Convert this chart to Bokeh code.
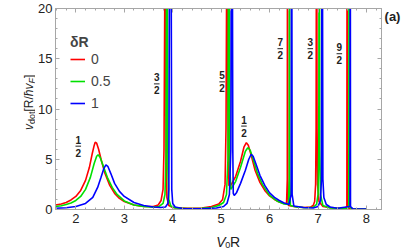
from bokeh.plotting import figure
from bokeh.layouts import row, column
from bokeh.models import Range1d, FixedTicker, LinearAxis, Legend, LegendItem
from bokeh.core.properties import value
from bokeh.embed import file_html
from bokeh.resources import INLINE

# ---------------- data ----------------
series_names = ["0", "0.5", "1"]          # delta R values
legend_title = "δR"

x_red = [1.58, 1.7, 1.8, 1.9, 2.0, 2.1, 2.2, 2.28, 2.34, 2.38, 2.40, 2.43, 2.47, 2.52, 2.6, 2.7,
         2.8, 2.9, 3.0, 3.2, 3.4, 3.6, 3.7, 3.76, 3.8, 3.82, 3.835, 3.845, 3.855, 3.865, 3.88,
         3.92, 4.0, 4.3, 4.6, 4.8, 4.95, 5.03, 5.08, 5.1, 5.115, 5.125, 5.13, 5.14, 5.16, 5.2,
         5.3, 5.4, 5.47, 5.52, 5.56, 5.62, 5.7, 5.8, 5.9, 6.0, 6.1, 6.2, 6.3, 6.35, 6.365,
         6.37, 6.375, 6.39, 6.5, 6.7, 6.85, 6.9, 6.93, 6.95, 6.96, 6.97, 6.98, 6.99, 7.02,
         7.1, 7.3, 7.55, 7.595, 7.6, 7.605, 7.65, 8.0]
y_red = [0.45, 0.55, 0.7, 0.95, 1.3, 1.9, 2.9, 4.2, 5.6, 6.4, 6.7, 6.6, 6.0, 5.0, 3.6, 2.4,
         1.6, 1.1, 0.8, 0.45, 0.3, 0.3, 0.45, 0.9, 2.0, 6.0, 20.0, 40.0, 20.0, 5.0, 1.2,
         0.4, 0.2, 0.12, 0.15, 0.3, 0.55, 1.0, 2.5, 8.0, 25.0, 40.0, 25.0, 10.0, 2.4, 2.4,
         3.3, 4.8, 6.2, 6.65, 6.4, 5.4, 3.9, 2.7, 1.9, 1.35, 1.0, 0.75, 0.6, 0.6, 3.0,
         40.0, 3.0, 0.4, 0.3, 0.2, 0.25, 0.4, 0.8, 2.5, 8.0, 40.0, 8.0, 2.5, 0.8,
         0.3, 0.15, 0.1, 0.3, 40.0, 0.3, 0.08, 0.05]

x_green = [1.58, 1.7, 1.8, 1.9, 2.0, 2.1, 2.2, 2.3, 2.38, 2.43, 2.46, 2.5, 2.56, 2.65, 2.75,
           2.85, 3.0, 3.2, 3.4, 3.6, 3.72, 3.8, 3.84, 3.86, 3.87, 3.88, 3.89, 3.9, 3.92, 3.96,
           4.05, 4.3, 4.6, 4.8, 4.95, 5.05, 5.11, 5.14, 5.15, 5.16, 5.17, 5.18, 5.2, 5.3,
           5.4, 5.5, 5.55, 5.6, 5.66, 5.75, 5.85, 6.0, 6.15, 6.3, 6.39, 6.405, 6.41, 6.415,
           6.43, 6.55, 6.75, 6.9, 6.97, 7.0, 7.015, 7.025, 7.035, 7.05, 7.1, 7.25, 7.6,
           7.635, 7.64, 7.645, 7.7, 8.0]
y_green = [0.3, 0.38, 0.5, 0.65, 0.9, 1.3, 2.0, 3.2, 4.6, 5.3, 5.45, 5.2, 4.4, 3.2, 2.2,
           1.5, 0.85, 0.45, 0.3, 0.22, 0.3, 0.6, 1.5, 5.0, 20.0, 40.0, 20.0, 4.0, 1.0, 0.35,
           0.15, 0.1, 0.12, 0.2, 0.4, 0.7, 1.5, 5.0, 25.0, 40.0, 20.0, 4.0, 2.0, 2.8,
           4.2, 5.8, 6.15, 5.9, 5.0, 3.6, 2.5, 1.4, 0.85, 0.55, 0.5, 3.0, 40.0, 3.0,
           0.4, 0.25, 0.18, 0.22, 0.5, 1.5, 6.0, 40.0, 6.0, 1.5, 0.4, 0.15, 0.08,
           0.3, 40.0, 0.3, 0.06, 0.04]

x_blue = [1.58, 1.8, 2.0, 2.2, 2.35, 2.45, 2.52, 2.58, 2.62, 2.66, 2.72, 2.8, 2.9, 3.0, 3.2,
          3.4, 3.6, 3.75, 3.85, 3.9, 3.92, 3.93, 3.95, 3.97, 3.98, 4.0, 4.05, 4.2, 4.6, 4.9,
          5.05, 5.12, 5.17, 5.2, 5.21, 5.23, 5.24, 5.25, 5.27, 5.32, 5.4, 5.5, 5.57, 5.62,
          5.66, 5.72, 5.8, 5.9, 6.0, 6.1, 6.2, 6.3, 6.4, 6.445, 6.455, 6.465, 6.5, 6.7, 6.9,
          7.0, 7.05, 7.07, 7.085, 7.1, 7.12, 7.17, 7.25, 7.4, 7.66, 7.665, 7.67, 7.72, 8.0]
y_blue = [0.12, 0.18, 0.3, 0.6, 1.2, 2.2, 3.2, 4.1, 4.45, 4.3, 3.6, 2.6, 1.8, 1.3, 0.7,
          0.4, 0.25, 0.2, 0.25, 0.6, 2.0, 20.0, 60.0, 20.0, 2.0, 0.6, 0.25, 0.1, 0.08, 0.15,
          0.3, 0.6, 1.5, 6.0, 30.0, 30.0, 6.0, 1.6, 1.4, 1.7, 2.6, 3.9, 5.0, 5.5,
          5.3, 4.5, 3.4, 2.4, 1.65, 1.2, 0.9, 0.65, 0.5, 1.5, 40.0, 1.5, 0.35, 0.2, 0.15,
          0.3, 0.9, 3.0, 40.0, 3.0, 1.2, 0.5, 0.25, 0.12, 0.3, 40.0, 0.3, 0.06, 0.05]

x_ticks = [2, 3, 4, 5, 6, 7, 8]
y_ticks = [0, 5, 10, 15, 20]
x_minor = [1.6, 1.8, 2.2, 2.4, 2.6, 2.8, 3.2, 3.4, 3.6, 3.8, 4.2, 4.4, 4.6, 4.8, 5.2, 5.4,
           5.6, 5.8, 6.2, 6.4, 6.6, 6.8, 7.2, 7.4, 7.6, 7.8, 8.2]
y_minor = [1, 2, 3, 4, 6, 7, 8, 9, 11, 12, 13, 14, 16, 17, 18, 19]

frac_num = ["1", "3", "5", "1", "7", "3", "9"]
frac_den = ["2", "2", "2", "2", "2", "2", "2"]
frac_x = [2.05, 3.67, 5.02, 5.47, 6.22, 6.84, 7.44]
frac_y = [6.3, 12.5, 12.7, 8.3, 16.0, 16.0, 15.5]

# axis title pieces: (text, size px, style, subscript?)
ylabel_parts = [("v", 12, "italic", False), ("dot", 9, "normal", True),
                ("[R/", 12, "normal", False), ("ħv", 12, "italic", False),
                ("F", 9, "italic", True), ("]", 12, "normal", False)]
xlabel_parts = [("V", 14, "italic", False), ("0", 9, "normal", True),
                ("R", 14, "normal", False)]
panel_tag = "(a)"

# ---------------- layout (picture px, page origin at top-left) ----------------
X0, X1 = 1.58, 8.31
Y0, Y1 = 0.0, 20.0
TOTAL_W, TOTAL_H = 407, 249
LEFT_W = 35            # y-label strip: x 0..35
TAG_W = 24             # tag strip: x 383..407
MAIN_W = TOTAL_W - LEFT_W - TAG_W
MAIN_H = 229
XLAB_H = TOTAL_H - MAIN_H
FONT = "Liberation Sans"
GRAY = "#a6a6a6"
INK = "#222222"

p = figure(width=MAIN_W, height=MAIN_H, x_range=Range1d(X0, X1), y_range=Range1d(Y0, Y1),
           output_backend="svg", toolbar_location=None,
           min_border_left=18, min_border_right=2, min_border_top=8, min_border_bottom=20)
p.grid.visible = False
p.outline_line_color = GRAY
p.background_fill_color = "white"
p.border_fill_color = "white"

xt = FixedTicker(ticks=x_ticks, minor_ticks=x_minor)
yt = FixedTicker(ticks=y_ticks, minor_ticks=y_minor)


def style_axis(ax):
    ax.axis_line_color = GRAY
    ax.major_tick_line_color = GRAY
    ax.minor_tick_line_color = GRAY
    ax.major_tick_in = 4
    ax.major_tick_out = 0
    ax.minor_tick_in = 2
    ax.minor_tick_out = 0


for ax, tk in ((p.xaxis[0], xt), (p.yaxis[0], yt)):
    ax.ticker = tk
    style_axis(ax)
    ax.major_label_text_font = FONT
    ax.major_label_text_font_size = "13px"
    ax.major_label_text_color = INK
p.xaxis[0].major_label_standoff = 4
p.yaxis[0].major_label_standoff = 3

for loc, tk, ticks in (("above", xt, x_ticks), ("right", yt, y_ticks)):
    ax = LinearAxis(ticker=tk)
    style_axis(ax)
    ax.major_label_overrides = {t: "" for t in ticks}
    ax.major_label_standoff = 0
    ax.major_label_text_font_size = "1px"
    p.add_layout(ax, loc)

colors = ["#ff0000", "#00e000", "#0000ff"]
rends = []
for xx, yy, c in zip([x_red, x_green, x_blue], [y_red, y_green, y_blue], colors):
    rends.append(p.line(xx, yy, line_color=c, line_width=1.6))

legend = Legend(items=[LegendItem(label=n, renderers=[r]) for n, r in zip(series_names, rends)],
                title=legend_title, location=(15, 97))
legend.title_text_font = FONT
legend.title_text_font_style = "bold"
legend.title_text_font_size = "14px"
legend.label_text_font = FONT
legend.label_text_font_size = "14px"
legend.glyph_width = 15
legend.glyph_height = 18
legend.label_height = 18
legend.spacing = 4
legend.padding = 0
legend.margin = 0
legend.label_standoff = 6
legend.title_standoff = 0
legend.border_line_color = None
legend.background_fill_alpha = 0
p.add_layout(legend)

PX = (X1 - X0) / 328.0
PY = (Y1 - Y0) / 201.0
p.text(x=frac_x, y=[v + 6.5 * PY for v in frac_y], text=frac_num, text_align="center",
       text_baseline="middle", text_font=value(FONT), text_font_style="bold",
       text_font_size="10px", text_color=INK)
p.text(x=frac_x, y=[v - 6.5 * PY for v in frac_y], text=frac_den, text_align="center",
       text_baseline="middle", text_font=value(FONT), text_font_style="bold",
       text_font_size="10px", text_color=INK)
p.segment(x0=[v - 2.8 * PX for v in frac_x], x1=[v + 2.8 * PX for v in frac_x],
          y0=frac_y, y1=frac_y, line_color=INK, line_width=1)


def strip(w, h, x0, y0):
    """Blank figure whose data coordinates are picture pixels."""
    f = figure(width=w, height=h, x_range=Range1d(x0, x0 + w), y_range=Range1d(y0 + h, y0),
               output_backend="svg", toolbar_location=None, x_axis_type=None,
               y_axis_type=None, min_border=0)
    f.grid.visible = False
    f.outline_line_color = None
    f.background_fill_color = "white"
    f.border_fill_color = "white"
    return f


def text_w(t, size):
    em = {"v": .5, "d": .556, "o": .556, "t": .278, "[": .278, "R": .722, "/": .278,
          "ħ": .556, "F": .611, "]": .278, "V": .667, "0": .556}
    return sum(em.get(ch, .556) for ch in t) * size


# y label strip (rotated text reading upwards)
yl = strip(LEFT_W, TOTAL_H, 0, 0)
pos = 129.5
for t, fs, st, sub in ylabel_parts:
    yl.text(x=[31.0 if sub else 28.5], y=[pos], text=[t], angle=1.5707963,
            text_align="left", text_baseline="alphabetic", text_font=value(FONT),
            text_font_size=f"{fs}px", text_font_style=st, text_color=INK)
    pos -= text_w(t, fs)

# x label strip
xl = strip(MAIN_W, XLAB_H, LEFT_W, MAIN_H)
pos = 206.5
for t, fs, st, sub in xlabel_parts:
    xl.text(x=[pos], y=[244.0 if sub else 241.0], text=[t], text_align="left",
            text_baseline="alphabetic", text_font=value(FONT), text_font_size=f"{fs}px",
            text_font_style=st, text_color=INK)
    pos += text_w(t, fs) + (0.5 if st == "italic" else 0)

# panel tag strip
tg = strip(TAG_W, TOTAL_H, LEFT_W + MAIN_W, 0)
tg.text(x=[392], y=[16], text=[panel_tag], text_align="center", text_baseline="middle",
        text_font=value(FONT), text_font_size="13px", text_font_style="bold", text_color=INK)

layout = row(yl, column(p, xl, spacing=0), tg, spacing=0)
open("out.html", "w").write(file_html(layout, INLINE))
